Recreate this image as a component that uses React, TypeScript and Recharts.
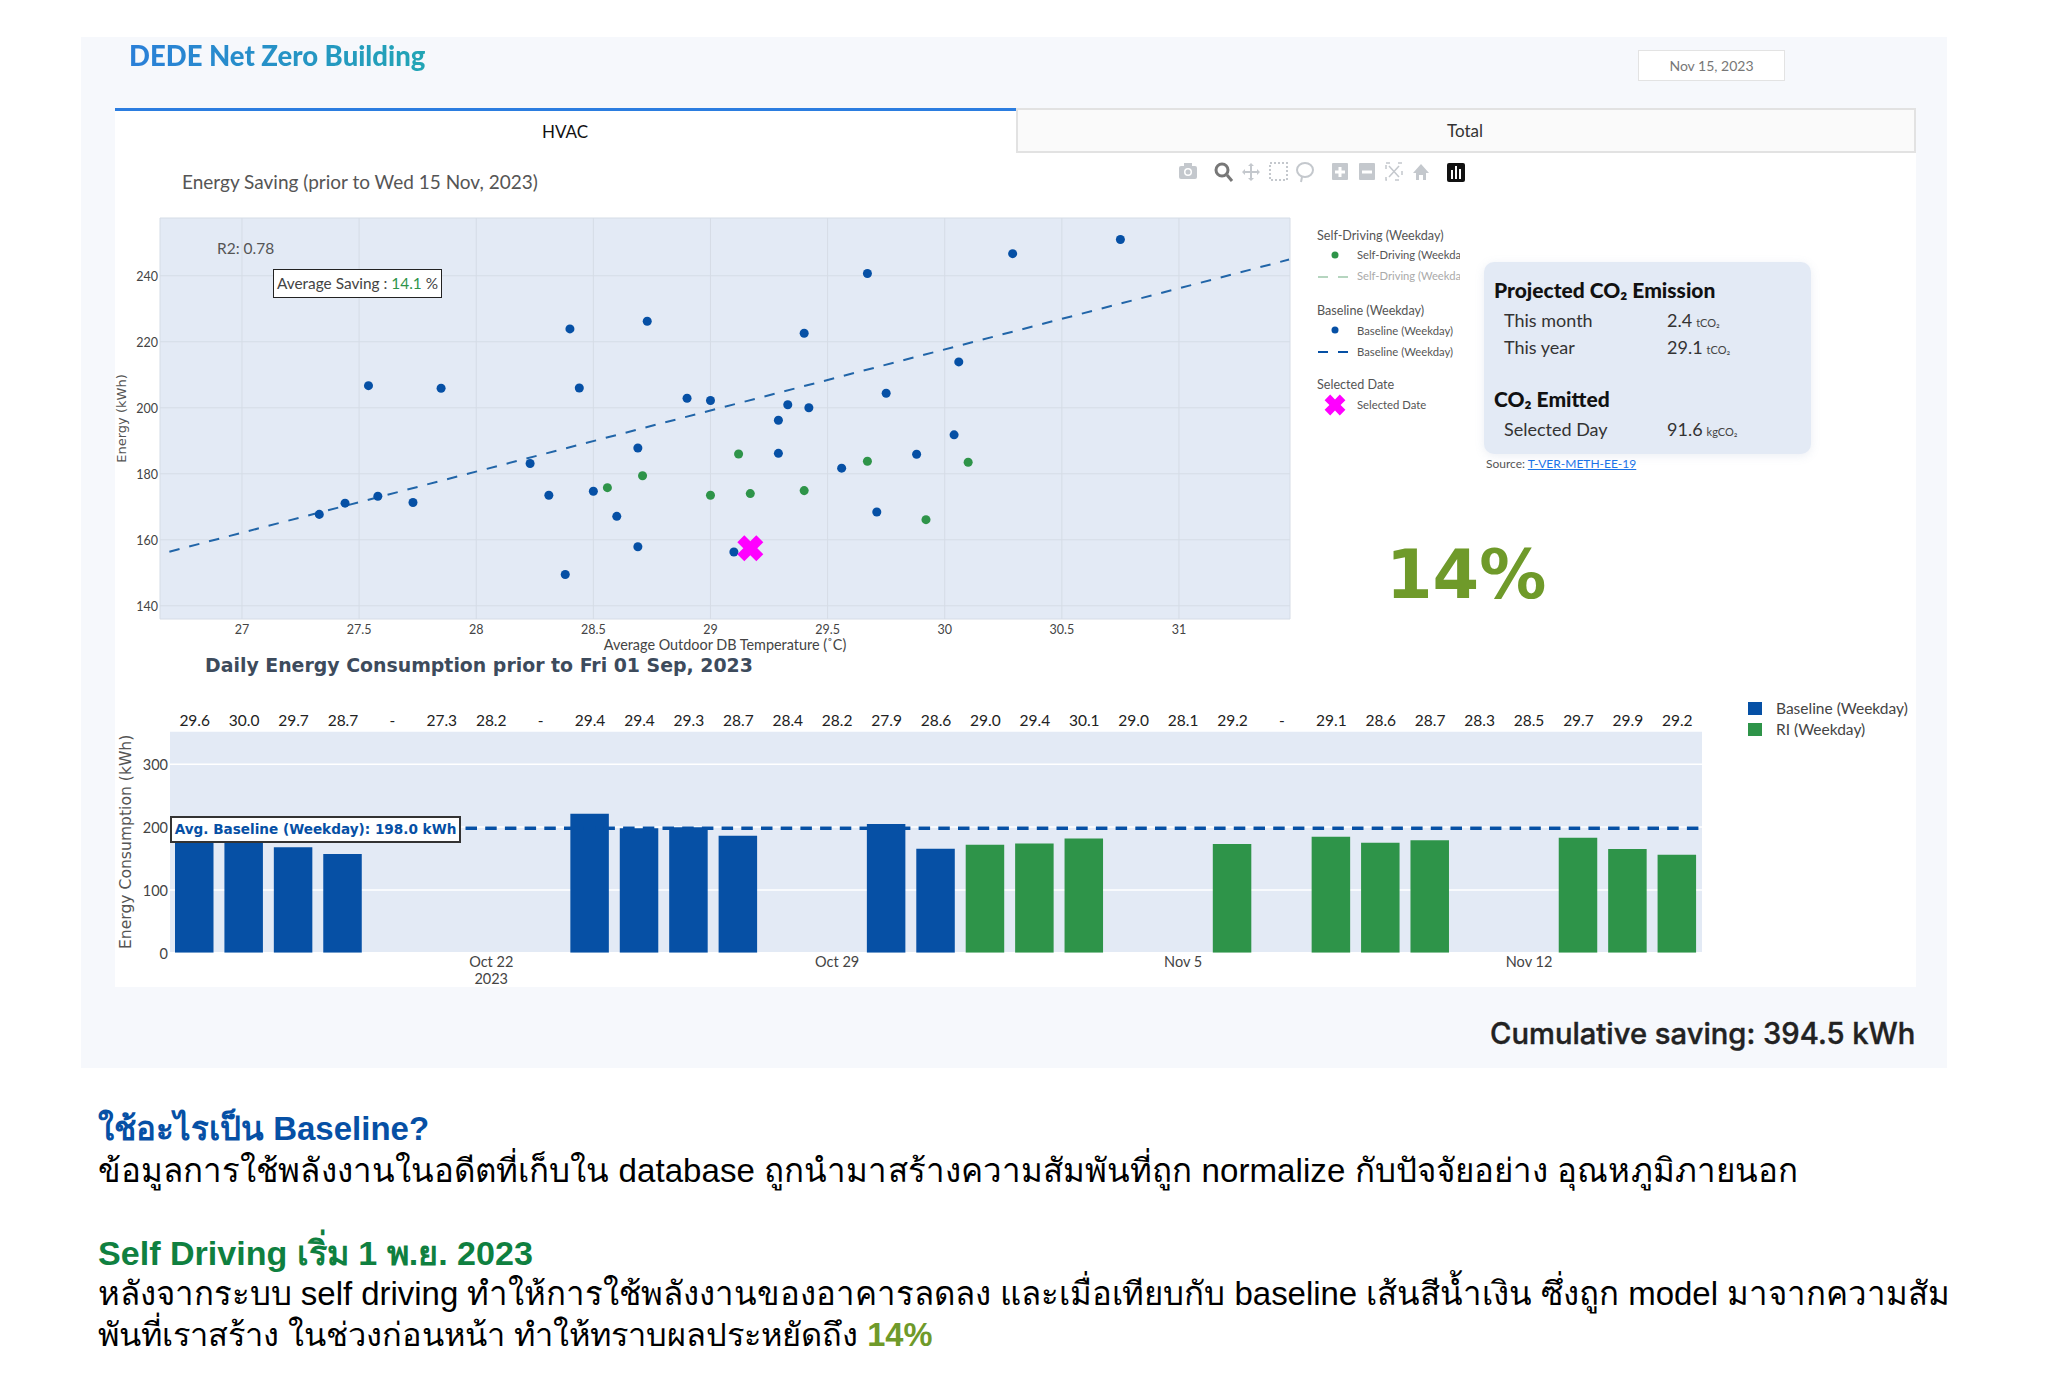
import {
  Bar,
  BarChart,
  CartesianGrid,
  ReferenceLine,
  Scatter,
  ScatterChart,
  XAxis,
  YAxis,
  ZAxis,
} from 'recharts';

const BLUE = '#0650a5';
const GREEN = '#2e9449';
const PLOT_BG = '#e3eaf5';
const UI_FONT = "Lato, 'Open Sans', sans-serif";
const WIDE_FONT = "'DejaVu Sans', sans-serif";
const BODY_FONT = "'Liberation Sans', 'Noto Sans', sans-serif";

// scatter chart values
const baselineTemp = [
  30.75, 30.29, 29.67, 28.73, 28.4, 29.4, 30.06, 27.54, 27.85, 28.44, 29.75, 28.9, 29.0, 29.33, 29.42, 29.29, 30.04,
  28.69, 29.29, 29.88, 28.23, 29.56, 27.58, 27.44, 27.73, 27.33, 28.31, 28.5, 28.6, 29.71, 28.69, 29.1, 28.38,
];
const baselineEnergy = [
  251, 246.7, 240.7, 226.2, 223.9, 222.6, 213.9, 206.7, 205.9, 206, 204.4, 202.9, 202.2, 200.9, 200, 196.2, 191.8,
  187.8, 186.2, 185.9, 183.1, 181.7, 173.2, 171.1, 171.3, 167.7, 173.5, 174.7, 167.1, 168.4, 157.9, 156.3, 149.5,
];
const selfDrivingTemp = [29.12, 29.67, 30.1, 28.71, 28.56, 29.4, 29.17, 29.0, 29.92];
const selfDrivingEnergy = [186, 183.8, 183.5, 179.4, 175.8, 174.9, 174, 173.5, 166.1];
const trendTemp = [26.69, 31.47];
const trendEnergy = [156.4, 244.9];
const selectedTemp = [29.17];
const selectedEnergy = [157.4];
const tempTicks = [27, 27.5, 28, 28.5, 29, 29.5, 30, 30.5, 31];
const energyTicks = [140, 160, 180, 200, 220, 240];

// daily bar chart values
const days = [
  'Oct 16', 'Oct 17', 'Oct 18', 'Oct 19', 'Oct 20', 'Oct 21', 'Oct 22', 'Oct 23', 'Oct 24', 'Oct 25', 'Oct 26',
  'Oct 27', 'Oct 28', 'Oct 29', 'Oct 30', 'Oct 31', 'Nov 1', 'Nov 2', 'Nov 3', 'Nov 4', 'Nov 5', 'Nov 6', 'Nov 7',
  'Nov 8', 'Nov 9', 'Nov 10', 'Nov 11', 'Nov 12', 'Nov 13', 'Nov 14', 'Nov 15',
];
const dayTemps = [
  '29.6', '30.0', '29.7', '28.7', '-', '27.3', '28.2', '-', '29.4', '29.4', '29.3', '28.7', '28.4', '28.2', '27.9',
  '28.6', '29.0', '29.4', '30.1', '29.0', '28.1', '29.2', '-', '29.1', '28.6', '28.7', '28.3', '28.5', '29.7', '29.9',
  '29.2',
];
const baselineDaily = [
  181.7, 191.8, 168, 157, null, null, null, null, 221.3, 198, 199.6, 186.3, null, null, 204.9, 165.6, null, null, null,
  null, null, null, null, null, null, null, null, null, null, null, null,
];
const selfDrivingDaily = [
  null, null, null, null, null, null, null, null, null, null, null, null, null, null, null, null, 172, 174, 182, null,
  null, 173, null, 184.7, 175, 178.9, null, null, 183, 165, 156,
];
const dailyTicks = [0, 100, 200, 300];
const weekTicks = ['Oct 22', 'Oct 29', 'Nov 5', 'Nov 12'];
const avgBaseline = 198;

const zip = (xs: number[], ys: number[]) => xs.map((x, i) => ({ temp: x, energy: ys[i] }));
const dailyData = days.map((d, i) => ({ day: d, baseline: baselineDaily[i], selfDriving: selfDrivingDaily[i] }));

function pos(left: number, top: number, extra: any = {}) {
  return { position: 'absolute' as const, left, top, whiteSpace: 'nowrap' as const, ...extra };
}

function Line({ left, cy, size, children, extra }: any) {
  // text placed by its vertical centre
  return (
    <div style={pos(left, cy - size, { fontSize: size, lineHeight: `${size * 2}px`, ...extra })}>{children}</div>
  );
}

const X_PATH = 'M-13,-6 L-6,-13 L0,-7 L6,-13 L13,-6 L7,0 L13,6 L6,13 L0,7 L-6,13 L-13,6 L-7,0 Z';

function SelectedMark({ cx, cy }: any) {
  return <path transform={`translate(${cx},${cy})`} d={X_PATH} fill="#ff00ff" />;
}

function WeekTick({ x, y, payload }: any) {
  if (!weekTicks.includes(payload.value)) return <g />;
  return (
    <g>
      <text x={x} y={y + 6} textAnchor="middle" fontSize={14.5} fontFamily={UI_FONT} fill="#444">
        {payload.value}
      </text>
      {payload.value === 'Oct 22' && (
        <text x={x} y={y + 23} textAnchor="middle" fontSize={14.5} fontFamily={UI_FONT} fill="#444">
          2023
        </text>
      )}
    </g>
  );
}

function ModeBar() {
  const c = '#c4c8cd';
  return (
    <svg style={pos(1175, 160)} width={300} height={24}>
      <g transform="translate(13,12)" fill={c}>
        <rect x={-9} y={-6} width={18} height={13} rx={2} />
        <rect x={-4} y={-9} width={8} height={4} />
        <circle r={4} fill="#fff" />
        <circle r={2.5} />
      </g>
      <g transform="translate(49,12)" fill="none" stroke="#777" strokeWidth={3}>
        <circle cx={-2} cy={-2} r={6} />
        <line x1={3} y1={3} x2={8} y2={9} />
      </g>
      <g transform="translate(76,12)" stroke={c} strokeWidth={2} fill={c}>
        <line x1={-7} x2={7} />
        <line y1={-7} y2={7} />
        <path d="M-9,0 L-6,-3 L-6,3 Z M9,0 L6,-3 L6,3 Z M0,-9 L-3,-6 L3,-6 Z M0,9 L-3,6 L3,6 Z" stroke="none" />
      </g>
      <rect x={95} y={3} width={17} height={17} fill="none" stroke={c} strokeWidth={2} strokeDasharray="2 2" />
      <ellipse cx={130} cy={10} rx={8} ry={7} fill="none" stroke={c} strokeWidth={2} />
      <path d="M127,17 L126,22" stroke={c} strokeWidth={2} />
      <g transform="translate(165,12)">
        <rect x={-8} y={-9} width={16} height={17} rx={1} fill={c} />
        <rect x={-5} y={-1.5} width={10} height={3} fill="#fff" />
        <rect x={-1.5} y={-5} width={3} height={10} fill="#fff" />
      </g>
      <g transform="translate(192,12)">
        <rect x={-8} y={-9} width={16} height={17} rx={1} fill={c} />
        <rect x={-5} y={-1.5} width={10} height={3} fill="#fff" />
      </g>
      <g transform="translate(219,12)" stroke={c} strokeWidth={1.5} fill="none">
        <rect x={-8} y={-9} width={16} height={17} strokeDasharray="4 8" />
        <line x1={-5} y1={-6} x2={5} y2={5} />
        <line x1={5} y1={-6} x2={-5} y2={5} />
      </g>
      <path d="M238,13 L246,4 L254,13 L251,13 L251,20 L248,20 L248,15 L244,15 L244,20 L241,20 L241,13 Z" fill={c} />
      <g transform="translate(281,12)">
        <rect x={-9} y={-9} width={18} height={19} rx={2} fill="#111" />
        <rect x={-5} y={-2} width={2} height={9} fill="#fff" />
        <rect x={-1} y={-6} width={2} height={13} fill="#fff" />
        <rect x={3} y={-3} width={2} height={10} fill="#fff" />
      </g>
    </svg>
  );
}

function ScatterLegend() {
  const base = { fontFamily: UI_FONT };
  return (
    <div>
      <Line left={1317} cy={236} size={12.6} extra={{ ...base, color: '#555' }}>Self-Driving (Weekday)</Line>
      <svg style={pos(1317, 245)} width={34} height={175}>
        <circle cx={18} cy={10} r={3.5} fill={GREEN} />
        <line x1={1} x2={32} y1={32} y2={32} stroke="#b5d5bf" strokeWidth={2} strokeDasharray="10 10" />
        <circle cx={18} cy={85} r={3.5} fill={BLUE} />
        <line x1={1} x2={32} y1={107} y2={107} stroke={BLUE} strokeWidth={2} strokeDasharray="10 10" />
        <path transform="translate(18,160) scale(0.8)" d={X_PATH} fill="#ff00ff" />
      </svg>
      <div style={pos(1357, 245, { width: 103, height: 42, overflow: 'hidden' })}>
        <div style={{ ...base, fontSize: 11.2, lineHeight: '20px', color: '#555' }}>Self-Driving (Weekday)</div>
        <div style={{ ...base, fontSize: 11.2, lineHeight: '22px', color: '#aaa' }}>Self-Driving (Weekday)</div>
      </div>
      <Line left={1317} cy={311} size={12.6} extra={{ ...base, color: '#555' }}>Baseline (Weekday)</Line>
      <Line left={1357} cy={331} size={11.3} extra={{ ...base, color: '#555' }}>Baseline (Weekday)</Line>
      <Line left={1357} cy={352} size={11.3} extra={{ ...base, color: '#555' }}>Baseline (Weekday)</Line>
      <Line left={1317} cy={385} size={12.6} extra={{ ...base, color: '#555' }}>Selected Date</Line>
      <Line left={1357} cy={405} size={11.3} extra={{ ...base, color: '#555' }}>Selected Date</Line>
    </div>
  );
}

function Co2Card() {
  const unit = { fontSize: 11, marginLeft: 4, color: '#444' };
  const row = { fontFamily: UI_FONT, color: '#333' };
  const head = { fontFamily: UI_FONT, fontWeight: 900, color: '#111' };
  return (
    <div>
      <div
        style={pos(1484, 262, {
          width: 327,
          height: 192,
          background: PLOT_BG,
          borderRadius: 10,
          boxShadow: '0 2px 10px rgba(120,140,180,0.15)',
        })}
      />
      <Line left={1494} cy={290} size={21} extra={head}>
        Projected CO₂ Emission
      </Line>
      <Line left={1504} cy={320} size={18} extra={row}>This month</Line>
      <Line left={1667} cy={320} size={18} extra={row}>2.4<span style={unit}>tCO₂</span></Line>
      <Line left={1504} cy={347} size={18} extra={row}>This year</Line>
      <Line left={1667} cy={347} size={18} extra={row}>29.1<span style={unit}>tCO₂</span></Line>
      <Line left={1494} cy={399} size={21} extra={head}>
        CO₂ Emitted
      </Line>
      <Line left={1504} cy={429} size={18} extra={row}>Selected Day</Line>
      <Line left={1667} cy={429} size={18} extra={row}>91.6<span style={unit}>kgCO₂</span></Line>
      <Line left={1486} cy={464} size={12} extra={{ fontFamily: UI_FONT, color: '#555' }}>
        Source: <span style={{ color: '#1a73e8', textDecoration: 'underline' }}>T-VER-METH-EE-19</span>
      </Line>
    </div>
  );
}

function EnergyScatter() {
  return (
    <div style={pos(100, 200)}>
      <ScatterChart width={1210} height={460} margin={{ top: 18, right: 20, bottom: 0, left: 0 }}>
        <CartesianGrid fill={PLOT_BG} stroke="#d5dce6" />
        <XAxis
          type="number"
          dataKey="temp"
          domain={[26.65, 31.474]}
          ticks={tempTicks}
          height={41}
          axisLine={false}
          tickLine={false}
          tickSize={0}
          tickMargin={6}
          allowDataOverflow
          tick={{ fontSize: 12.5, fontFamily: UI_FONT, fill: '#444' }}
          label={{
            value: 'Average Outdoor DB Temperature (˚C)',
            position: 'insideBottom',
            offset: 10,
            fontSize: 14.4,
            fontFamily: UI_FONT,
            fill: '#444',
          }}
        />
        <YAxis
          type="number"
          dataKey="energy"
          domain={[136, 257.5]}
          ticks={energyTicks}
          width={60}
          axisLine={false}
          tickLine={false}
          tickSize={0}
          tickMargin={2}
          allowDataOverflow
          tick={{ fontSize: 12.5, fontFamily: UI_FONT, fill: '#444', dy: 1 }}
          label={{
            value: 'Energy (kWh)',
            angle: -90,
            position: 'insideLeft',
            offset: 21,
            fontSize: 13,
            fontFamily: WIDE_FONT,
            fill: '#555',
            style: { textAnchor: 'middle' },
          }}
        />
        <ZAxis range={[42, 42]} />
        <Scatter
          data={zip(trendTemp, trendEnergy)}
          line={{ stroke: '#2165a8', strokeWidth: 2, strokeDasharray: '10.5 10' }}
          shape={() => <g />}
          isAnimationActive={false}
        />
        <Scatter data={zip(baselineTemp, baselineEnergy)} fill={BLUE} isAnimationActive={false} />
        <Scatter data={zip(selfDrivingTemp, selfDrivingEnergy)} fill={GREEN} isAnimationActive={false} />
        <Scatter
          data={zip(selectedTemp, selectedEnergy)}
          shape={(p: any) => <SelectedMark cx={p.cx} cy={p.cy} />}
          isAnimationActive={false}
        />
      </ScatterChart>
    </div>
  );
}

function DailyBars() {
  return (
    <div style={pos(100, 680)}>
      <BarChart width={1622} height={320} data={dailyData} margin={{ top: 20, right: 20, bottom: 0, left: 0 }}>
        <CartesianGrid fill={PLOT_BG} stroke="#fff" strokeWidth={1.5} vertical={false} xAxisId="main" />
        <XAxis
          xAxisId="main"
          dataKey="day"
          height={47.3}
          interval={0}
          axisLine={false}
          tickLine={false}
          tick={<WeekTick />}
        />
        <XAxis
          xAxisId="temp"
          orientation="top"
          dataKey="day"
          height={31}
          interval={0}
          axisLine={false}
          tickLine={false}
          tickSize={0}
          tickMargin={5}
          tickFormatter={(_v: string, i: number) => dayTemps[i]}
          tick={{ fontSize: 15.5, fontFamily: UI_FONT, fill: '#222' }}
        />
        <YAxis
          domain={[0, 353]}
          ticks={dailyTicks}
          width={70}
          axisLine={false}
          tickLine={false}
          tickSize={0}
          tickMargin={2}
          allowDataOverflow
          tick={{ fontSize: 14.5, fontFamily: UI_FONT, fill: '#444', dy: 1 }}
          label={{
            value: 'Energy Consumption (kWh)',
            angle: -90,
            position: 'insideLeft',
            offset: 25,
            fontSize: 15.6,
            fontFamily: WIDE_FONT,
            fill: '#555',
            style: { textAnchor: 'middle' },
          }}
        />
        <Bar dataKey="baseline" xAxisId="main" stackId="day" fill={BLUE} barSize={38.5} isAnimationActive={false} />
        <Bar dataKey="selfDriving" xAxisId="main" stackId="day" fill={GREEN} barSize={38.5} isAnimationActive={false} />
        <ReferenceLine xAxisId="main" y={avgBaseline} stroke={BLUE} strokeWidth={3.5} strokeDasharray="11.5 8.2" />
      </BarChart>
    </div>
  );
}

export default function App() {
  return (
    <div style={pos(0, 0, { width: 2048, height: 1398, background: '#fff', overflow: 'hidden' })}>
      <div style={pos(81, 37, { width: 1866, height: 1031, background: '#f6f8fc' })} />
      <div style={pos(115, 108, { width: 1801, height: 879, background: '#fff' })} />

      <Line
        left={129}
        cy={55}
        size={27.5}
        extra={{
          fontFamily: UI_FONT,
          fontWeight: 900,
          background: 'linear-gradient(90deg, #2a7fd8, #22a5b5)',
          WebkitBackgroundClip: 'text',
          backgroundClip: 'text',
          color: 'transparent',
        }}
      >
        DEDE Net Zero Building
      </Line>
      <div
        style={pos(1638, 50, {
          width: 145,
          height: 29,
          background: '#fff',
          border: '1px solid #e3e3e3',
          textAlign: 'center',
          lineHeight: '29px',
          fontFamily: UI_FONT,
          fontSize: 14,
          color: '#777',
        })}
      >
        Nov 15, 2023
      </div>

      <div style={pos(115, 108, { width: 901, height: 3, background: '#2b7de0' })} />
      <div
        style={pos(1016, 108, {
          width: 896,
          height: 41,
          background: '#fafafa',
          border: '1px solid #e2e2e2',
          borderWidth: 2,
          boxSizing: 'content-box',
        })}
      />
      <div style={pos(515, 121, { width: 100, textAlign: 'center', fontFamily: UI_FONT, fontSize: 17, color: '#111' })}>
        HVAC
      </div>
      <div style={pos(1415, 120, { width: 100, textAlign: 'center', fontFamily: UI_FONT, fontSize: 17, color: '#333' })}>
        Total
      </div>

      <Line left={182} cy={182} size={19} extra={{ fontFamily: UI_FONT, color: '#555' }}>
        Energy Saving (prior to Wed 15 Nov, 2023)
      </Line>
      <ModeBar />

      <EnergyScatter />
      <Line left={217} cy={248} size={15.5} extra={{ fontFamily: UI_FONT, color: '#555' }}>R2: 0.78</Line>
      <div
        style={pos(273, 269, {
          width: 167,
          height: 27,
          background: '#fff',
          border: '1.5px solid #222',
          textAlign: 'center',
          lineHeight: '27px',
          fontFamily: UI_FONT,
          fontSize: 15.4,
          color: '#444',
        })}
      >
        Average Saving : <span style={{ color: GREEN }}>14.1</span> %
      </div>
      <ScatterLegend />
      <Co2Card />
      <Line left={1386} cy={575} size={67} extra={{ fontFamily: WIDE_FONT, fontWeight: 700, color: '#6f9a2a' }}>
        14%
      </Line>

      <Line left={205} cy={666} size={18.9} extra={{ fontFamily: WIDE_FONT, fontWeight: 700, color: '#3d4b5c' }}>
        Daily Energy Consumption prior to Fri 01 Sep, 2023
      </Line>
      <DailyBars />
      <div
        style={pos(170, 816, {
          width: 287,
          height: 23,
          background: '#fff',
          border: '2px solid #333',
          textAlign: 'center',
          lineHeight: '23px',
          fontFamily: WIDE_FONT,
          fontWeight: 700,
          fontSize: 13.6,
          color: BLUE,
        })}
      >
        Avg. Baseline (Weekday): 198.0 kWh
      </div>
      <div style={pos(1748, 702, { width: 14, height: 13, background: BLUE })} />
      <div style={pos(1748, 723, { width: 14, height: 13, background: GREEN })} />
      <Line left={1776} cy={708} size={15.5} extra={{ fontFamily: UI_FONT, color: '#444' }}>Baseline (Weekday)</Line>
      <Line left={1776} cy={729} size={15.5} extra={{ fontFamily: UI_FONT, color: '#444' }}>RI (Weekday)</Line>

      <Line
        left={1490}
        cy={1034}
        size={29.2}
        extra={{ fontFamily: 'Inter, sans-serif', fontWeight: 500, color: '#222', WebkitTextStroke: '0.4px #222' }}
      >
        Cumulative saving: 394.5 kWh
      </Line>

      <Line left={98} cy={1129} size={33} extra={{ fontFamily: BODY_FONT, fontWeight: 700, color: BLUE }}>
        ใช้อะไรเป็น Baseline?
      </Line>
      <Line left={98} cy={1171} size={33.1} extra={{ fontFamily: BODY_FONT, color: '#000', letterSpacing: 0.05 }}>
        ข้อมูลการใช้พลังงานในอดีตที่เก็บใน database ถูกนำมาสร้างความสัมพันที่ถูก normalize กับปัจจัยอย่าง อุณหภูมิภายนอก
      </Line>
      <Line left={98} cy={1253} size={34.1} extra={{ fontFamily: BODY_FONT, fontWeight: 700, color: '#0f8040' }}>
        Self Driving เริ่ม 1 พ.ย. 2023
      </Line>
      <Line left={98} cy={1294} size={33} extra={{ fontFamily: BODY_FONT, color: '#000', letterSpacing: -0.03 }}>
        หลังจากระบบ self driving ทำให้การใช้พลังงานของอาคารลดลง และเมื่อเทียบกับ baseline เส้นสีน้ำเงิน ซึ่งถูก model มาจากความสัม
      </Line>
      <Line left={98} cy={1335} size={32.6} extra={{ fontFamily: BODY_FONT, color: '#000' }}>
        พันที่เราสร้าง ในช่วงก่อนหน้า ทำให้ทราบผลประหยัดถึง{' '}
        <span style={{ color: '#6f9a2a', fontWeight: 700 }}>14%</span>
      </Line>
    </div>
  );
}
